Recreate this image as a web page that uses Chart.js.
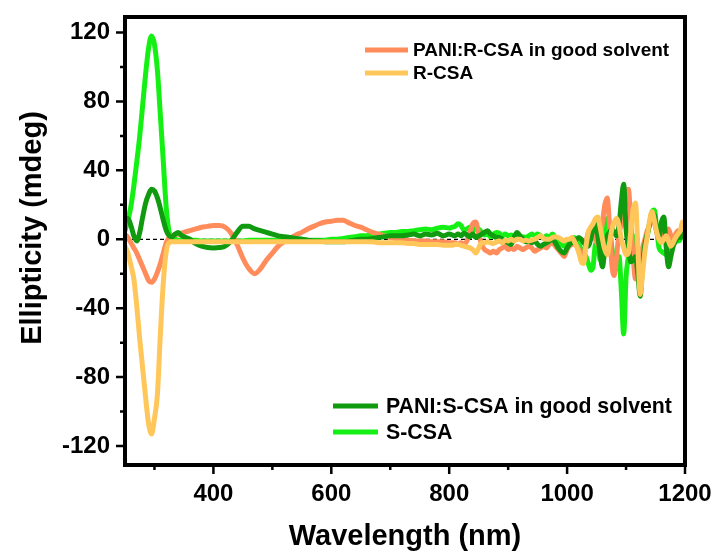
<!DOCTYPE html>
<html>
<head>
<meta charset="utf-8">
<script src="https://cdn.jsdelivr.net/npm/chart.js@4.4.1/dist/chart.umd.min.js"></script>
<style>
  html, body { margin: 0; padding: 0; background: #fff; }
  #wrap { width: 715px; height: 554px; }
</style>
</head>
<body>
<div id="wrap"><canvas id="grafica" width="715" height="554"></canvas></div>
<script>
// wavelength (nm)
const wavelength = [
  250, 255, 260, 265, 270, 275, 280, 285, 290, 295, 300, 305, 310, 315, 320, 325, 330, 335, 340, 345, 350,
  360, 370, 380, 390, 400, 410, 420, 430, 440, 450, 460, 470, 480, 490, 500, 510, 520, 530, 540, 550,
  560, 570, 580, 590, 600, 610, 620, 630, 640, 650, 660, 670, 680, 690, 700, 710, 720, 730, 740, 750,
  760, 770, 780, 790, 800,
  805, 810, 815, 820, 825, 830, 835, 840, 845, 850, 855, 860, 865, 870, 875, 880, 885, 890, 895, 900,
  905, 910, 915, 920, 925, 930, 935, 940, 945, 950, 955, 960, 965, 970, 975, 980, 985, 990, 995, 1000,
  1004, 1008, 1012, 1016, 1020, 1024, 1028, 1032, 1036, 1040, 1044, 1048, 1052, 1056, 1060, 1064, 1068,
  1072, 1076, 1080, 1084, 1088, 1092, 1096, 1100, 1104, 1108, 1112, 1116, 1120, 1124, 1128, 1132, 1136,
  1140, 1144, 1148, 1152, 1156, 1160, 1164, 1168, 1172, 1176, 1180, 1184, 1188, 1192, 1196, 1200
];

// ellipticity (mdeg)
const paniRcsa = [
  3, 1, -2, -5, -8, -12, -16, -20, -24, -25, -23, -19, -14, -8, -2, 1, 2, 2.5, 3, 3.5, 4,
  5, 6, 7, 7.5, 8, 8, 7, 3.5, -3, -11, -17, -20, -17, -12, -8, -4, -1.5, 0.5, 2.5, 4,
  6, 7.5, 9, 10, 10.5, 11, 11, 9.5, 8, 7, 5.5, 4, 3, 2, 1, 0.5, 0, -0.5, -1, -1,
  -1, -1.5, -1.5, -1.5, -2,
  -2, -2, -3, -2, -3, -1, 4, 9, 10, 3, -3, -6, -7, -8, -7, -8, -6, -5, -4, -6,
  -5, -6, -4, -5, -6, -5, -4, -5, -7, -6, -5, -4, -5, -3, -2, -4, -6, -8, -10, -6,
  -4, -3, -2, -4, -6, -8, -10, -2, 4, 6, 4, 0, -3, 2, 10, 20, 24,
  8, -15, -21, -10, 4, 8, 14, 26, 29, 10, -10, -23, -18, -12, -5, 0, 5,
  8, 12, 10, 4, 0, 2, 6, 4, 6, 2, 0, 3, 5, 4, 3, 4
];

const rCsa = [
  -4, -8, -15, -23, -39, -58, -75, -92, -107, -113, -104, -90, -55, -25, -7, -2, -1.5, -1.5, -1.5, -1.5, -1.5,
  -1.5, -1.5, -1.5, -1.5, -1.5, -1.5, -1.5, -1.5, -1.5, -1.5, -1.5, -1.5, -1.5, -1.5, -1.5, -1.5, -1.5, -1.5, -1.5, -1.5,
  -1.5, -1.5, -1.5, -1.5, -1.5, -1.5, -1.5, -1.5, -1.5, -1.5, -1.5, -1.5, -2, -2, -2, -2, -2, -2.5, -2.5, -3,
  -3, -3, -3, -3.5, -3.5,
  -3.5, -3, -3, -3.5, -4, -4.5, -5, -6, -8, -5, -2, -2, -1.5, -2, -2.5, -1.5, -1, -2, -0.5, -1,
  0, -1, 0, 0, -1, -0.5, -1, -0.5, 0, 1, 2, 0.5, 0, 0, 1, 1.5, 1, 0, -1, 0,
  0, 1, -1, -4, -8, -13, -14, -4, 4, 7, 9, 12, 13, 7, 0, -6, -9,
  -2, 6, 10, 12, 8, 0, -5, -9, -8, 5, 17, 21, -5, -32, -20, -7, 2,
  11, 16, 11, 4, 0, -2, 0, 2, -1, -4, -2, 1, 3, 5, 10, 8
];

const paniScsa = [
  11, 12, 8, 2, -1, 4, 13, 21, 26, 29, 28, 24, 18, 11, 5, 2, 1.5, 3, 4, 2.5, 1.5,
  0, -2.5, -4, -4.8, -5, -4.8, -4, -1, 4, 7.5, 7.5, 6, 5, 4, 3, 2, 1.5, 1, 0.5, 0,
  -0.5, -1, -1, -1.5, -1.5, -1.5, -1.5, -1, -0.5, 0, 0, 0.5, 1, 1.5, 2, 2, 2, 2.5, 3, 2,
  3, 2.5, 3.5, 2, 3,
  2.5, 2, 3, 2, 3.5, 2.5, 1.5, 3, 1, 2, 3, 4, 5, 3, 2, 1, 1, 0, -1, -2,
  -3, 1, 4, 2, 0, -1.5, -1, -2, -1, -3, -4, -3, -2, -1, 0, -2, -5, -7, -8, -5,
  -3, -2, -1, 0, 1, 0, -2, -3, -4, 0, 6, 10, 2, -8, -16, -6, 2,
  4, 6, 4, 2, 8, 22, 32, 6, -5, -13, -12, -10, -20, -33, -15, -3, 3,
  9, 15, 14, 5, 2, 10, 13, -4, -16, -10, -4, -1, 2, 1, 2, 4
];

const sCsa = [
  5, 11, 19, 31, 45, 60, 78, 96, 111, 118, 113, 98, 72, 45, 18, 4, 0.5, 0, -0.5, -0.5, -0.5,
  -0.5, -0.5, -1, -1, -1, -1, -1, -1, -1, -1, -0.5, -0.5, -0.5, -0.5, -0.5, -0.5, 0, -0.5, 0, 0,
  -0.5, -0.5, -0.5, -0.5, 0, 0, 0.5, 1, 1.5, 2, 2, 2.5, 3, 3.5, 4, 4, 4.5, 4.5, 5, 5.5,
  6, 5.5, 6.5, 7, 6.5,
  7, 7.5, 9, 8, 5.5, 6, 7, 5, 6.5, 6, 4, 2.5, 3, 1.5, 3, 4, 3.5, 2, 3, 2,
  2.5, 1.5, 2, 0.5, 1.5, 1, 2, 3, 2, 3, 2, 0.5, 2, 1, 3, 1, -1, -3, -4, -1,
  -1, 0, 1, -1, -3, -6, -8, -10, -14, -18, -16, -3, -2, -12, -10, 5, 12,
  8, -5, -12, -17, -10, -30, -55, -22, -10, 0, 2, -8, -16, -21, -12, -4, 2,
  9, 16, 17, 6, -5, -7, -8, -9, -6, -4, -2, -1, -1, 0, 5, 6
];

const xTicks = [400, 600, 800, 1000, 1200];
const xMinorTicks = [300, 500, 700, 900, 1100];
const yTicks = [-120, -80, -40, 0, 40, 80, 120];
const yMinorTicks = [-100, -60, -20, 20, 60, 100];

const FUENTE = 'Arial, "Liberation Sans", sans-serif';

function serie(valores) {
  return wavelength.map((w, i) => ({ x: w, y: valores[i] }));
}

function linea(label, valores, color, orden) {
  return {
    label: label,
    data: serie(valores),
    borderColor: color,
    backgroundColor: color,
    borderWidth: 5,
    pointRadius: 0,
    cubicInterpolationMode: "monotone",
    borderJoinStyle: "round",
    borderCapStyle: "round",
    order: orden
  };
}

// sin relleno extra alrededor del area
function sinPadding(s) {
  s.paddingLeft = 0;
  s.paddingRight = 0;
  s.paddingTop = 0;
  s.paddingBottom = 0;
}

const leyendas = [
  { x: 365, y: 50, size: 19, largo: 43, texto: 48, items: [["PANI:R-CSA in good solvent", "#FF8C5A"], ["R-CSA", "#FFC65A"]], gap: 23 },
  { x: 333, y: 406, size: 21.3, largo: 45, texto: 53, items: [["PANI:S-CSA in good solvent", "#109A10"], ["S-CSA", "#14F014"]], gap: 26 }
];

const marco = {
  id: "marco",
  beforeDatasetsDraw(chart) {
    const { ctx, chartArea: a, scales: { y } } = chart;
    const y0 = y.getPixelForValue(0);
    ctx.save();
    ctx.setLineDash([4, 3]);
    ctx.lineWidth = 1.3;
    ctx.strokeStyle = "#000";
    ctx.beginPath();
    ctx.moveTo(a.left, y0);
    ctx.lineTo(a.right, y0);
    ctx.stroke();
    ctx.restore();
  },
  afterDraw(chart) {
    const { ctx, chartArea: a, scales: { x, y } } = chart;
    ctx.save();
    ctx.strokeStyle = "#000";
    ctx.lineWidth = 4;
    ctx.strokeRect(a.left, a.top, a.right - a.left, a.bottom - a.top);

    ctx.lineWidth = 2.5;
    ctx.beginPath();
    yTicks.forEach(v => { const p = y.getPixelForValue(v); ctx.moveTo(a.left - 9, p); ctx.lineTo(a.left, p); });
    yMinorTicks.forEach(v => { const p = y.getPixelForValue(v); ctx.moveTo(a.left - 5, p); ctx.lineTo(a.left, p); });
    xTicks.forEach(v => { const p = x.getPixelForValue(v); ctx.moveTo(p, a.bottom); ctx.lineTo(p, a.bottom + 9); });
    xMinorTicks.forEach(v => { const p = x.getPixelForValue(v); ctx.moveTo(p, a.bottom); ctx.lineTo(p, a.bottom + 5); });
    ctx.stroke();

    // titulos de ejes
    ctx.fillStyle = "#000";
    ctx.font = "bold 29px " + FUENTE;
    ctx.textAlign = "center";
    ctx.textBaseline = "alphabetic";
    ctx.fillText("Wavelength (nm)", (a.left + a.right) / 2, 545);
    ctx.translate(41, 228);
    ctx.rotate(-Math.PI / 2);
    ctx.fillText("Ellipticity (mdeg)", 0, 0);
    ctx.setTransform(1, 0, 0, 1, 0, 0);

    // leyendas
    leyendas.forEach(l => {
      ctx.font = "bold " + l.size + "px " + FUENTE;
      ctx.textAlign = "left";
      ctx.textBaseline = "middle";
      l.items.forEach((it, i) => {
        const yy = l.y + i * l.gap;
        ctx.strokeStyle = it[1];
        ctx.lineWidth = 5;
        ctx.beginPath();
        ctx.moveTo(l.x, yy);
        ctx.lineTo(l.x + l.largo, yy);
        ctx.stroke();
        ctx.fillStyle = "#000";
        ctx.fillText(it[0], l.x + l.texto, yy + 1);
      });
    });
    ctx.restore();
  }
};

const ctx = document.getElementById("grafica").getContext("2d");
const grafica = new Chart(ctx, {
  type: "line",
  data: {
    datasets: [
      linea("PANI:R-CSA in good solvent", paniRcsa, "#FF8C5A", 2),
      linea("R-CSA", rCsa, "#FFC65A", 0),
      linea("PANI:S-CSA in good solvent", paniScsa, "#109A10", 1),
      linea("S-CSA", sCsa, "#14F014", 3)
    ]
  },
  options: {
    responsive: false,
    animation: false,
    devicePixelRatio: 1,
    events: [],
    layout: { padding: { left: 0, right: 30, top: 17, bottom: 0 } },
    plugins: { legend: { display: false }, tooltip: { enabled: false } },
    scales: {
      x: {
        type: "linear", min: 250, max: 1200,
        afterBuildTicks: s => { s.ticks = xTicks.map(v => ({ value: v })); },
        afterFit: s => { s.height = 89; sinPadding(s); },
        grid: { display: false, drawTicks: false },
        border: { display: false },
        ticks: { color: "#000", font: { family: FUENTE, size: 24, weight: "bold" }, padding: 15, maxRotation: 0, autoSkip: false, callback: v => String(v) }
      },
      y: {
        type: "linear", min: -131, max: 129,
        afterBuildTicks: s => { s.ticks = yTicks.map(v => ({ value: v })); },
        afterFit: s => { s.width = 125; sinPadding(s); },
        grid: { display: false, drawTicks: false },
        border: { display: false },
        ticks: { color: "#000", font: { family: FUENTE, size: 24, weight: "bold" }, padding: 15, autoSkip: false, callback: v => String(v) }
      }
    }
  },
  plugins: [marco]
});
</script>
</body>
</html>
